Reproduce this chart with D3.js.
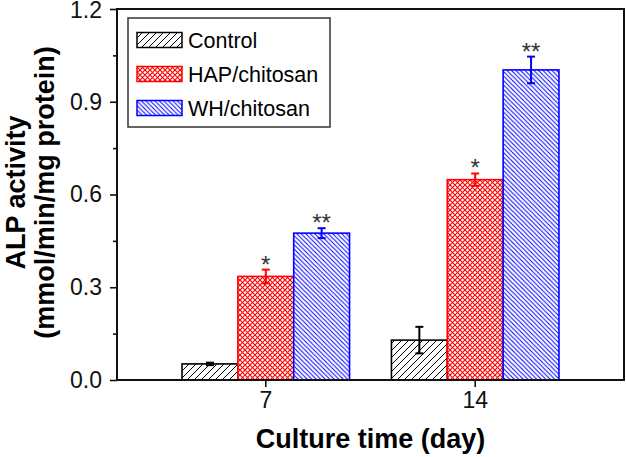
<!DOCTYPE html>
<html>
<head>
<meta charset="utf-8">
<script src="https://cdn.jsdelivr.net/npm/d3@7"></script>
<style>
  html, body { margin: 0; padding: 0; background: #fff; }
  svg { display: block; font-family: "Liberation Sans", Arial, sans-serif; }
</style>
</head>
<body>
<svg id="chart" width="626" height="457"></svg>
<script>
// ---- data ----
const categories = ["7", "14"];
const seriesNames = ["Control", "HAP/chitosan", "WH/chitosan"];
const controlValues = [0.052, 0.129];
const controlErrors = [0.004, 0.043];
const hapValues = [0.335, 0.648];
const hapErrors = [0.022, 0.02];
const whValues = [0.475, 1.003];
const whErrors = [0.016, 0.043];
const hapStars = ["*", "*"];
const whStars = ["**", "**"];
const yTicks = [0, 0.3, 0.6, 0.9, 1.2];
const yMinorTicks = [0.15, 0.45, 0.75, 1.05];
const seriesColors = ["#000000", "#ff0000", "#0000ff"];

const series = [
  { name: seriesNames[0], values: controlValues, errors: controlErrors, stars: null, color: seriesColors[0], pat: "pControl" },
  { name: seriesNames[1], values: hapValues, errors: hapErrors, stars: hapStars, color: seriesColors[1], pat: "pHap" },
  { name: seriesNames[2], values: whValues, errors: whErrors, stars: whStars, color: seriesColors[2], pat: "pWh" }
];

const svg = d3.select("#chart");
const L = 117, R = 624, T = 9, B = 380;

// ---- patterns ----
const defs = svg.append("defs");
function linePattern(id, size, color, sw, dirs) {
  const p = defs.append("pattern").attr("id", id).attr("patternUnits", "userSpaceOnUse")
    .attr("width", size).attr("height", size);
  p.append("rect").attr("width", size).attr("height", size).attr("fill", "#fff");
  dirs.forEach(d => {
    if (d === "/") {
      p.append("path").attr("d", `M0,${size} L${size},0 M${-size/2},${size/2} L${size/2},${-size/2} M${size/2},${size*1.5} L${size*1.5},${size/2}`)
        .attr("stroke", color).attr("stroke-width", sw);
    } else {
      p.append("path").attr("d", `M0,0 L${size},${size} M${-size/2},${size/2} L${size/2},${size*1.5} M${size/2},${-size/2} L${size*1.5},${size/2}`)
        .attr("stroke", color).attr("stroke-width", sw);
    }
  });
}
linePattern("pControl", 7, "#000", 1, ["/"]);
linePattern("pHap", 5, "#ff0000", 1.1, ["/", "\\"]);
linePattern("pWh", 4.5, "#0000ff", 1.0, ["\\"]);

// ---- scales ----
const x = d3.scaleBand().domain(categories).range([L, R]).paddingInner(0.2).paddingOuter(0.3105);
const xs = d3.scaleBand().domain(seriesNames).range([0, x.bandwidth()]);
const y = d3.scaleLinear().domain([0, 1.2]).range([B, T]);

// ---- bars ----
series.forEach(s => {
  const g = svg.append("g");
  categories.forEach((c, i) => {
    const bx = x(c) + xs(s.name);
    const v = s.values[i], e = s.errors[i];
    g.append("rect")
      .attr("x", bx).attr("y", y(v))
      .attr("width", xs.bandwidth()).attr("height", y(0) - y(v))
      .attr("fill", `url(#${s.pat})`).attr("stroke", s.color).attr("stroke-width", 1.6);
    const cx = bx + xs.bandwidth() / 2;
    const eg = g.append("g").attr("stroke", s.color).attr("stroke-width", 2);
    eg.append("line").attr("x1", cx).attr("x2", cx).attr("y1", y(v + e)).attr("y2", y(v - e));
    eg.append("line").attr("x1", cx - 4).attr("x2", cx + 4).attr("y1", y(v + e)).attr("y2", y(v + e));
    eg.append("line").attr("x1", cx - 4).attr("x2", cx + 4).attr("y1", y(v - e)).attr("y2", y(v - e));
    if (s.stars) {
      g.append("text").attr("x", cx).attr("y", y(v + e) + 3)
        .attr("text-anchor", "middle").attr("font-size", 24).attr("fill", "#333")
        .text(s.stars[i]);
    }
  });
});

// ---- frame & axes ----
const axisColor = "#111";
svg.append("rect").attr("x", L).attr("y", T).attr("width", R - L).attr("height", B - T)
  .attr("fill", "none").attr("stroke", axisColor).attr("stroke-width", 2);

const yAxis = svg.append("g").attr("transform", `translate(${L},0)`)
  .call(d3.axisLeft(y).tickValues(yTicks).tickFormat(d3.format(".1f")).tickSize(7).tickPadding(8));
yAxis.select(".domain").remove();
yAxis.selectAll(".tick line").attr("stroke", axisColor).attr("stroke-width", 1.6);
yAxis.selectAll(".tick text").attr("font-size", 23).attr("fill", "#111")
  .attr("font-family", "Liberation Sans, Arial, sans-serif")
  .attr("dy", d => d === 1.2 ? "0.38em" : "0.32em");

const yMinor = svg.append("g").attr("transform", `translate(${L},0)`)
  .call(d3.axisLeft(y).tickValues(yMinorTicks).tickFormat("").tickSize(4));
yMinor.select(".domain").remove();
yMinor.selectAll(".tick line").attr("stroke", axisColor).attr("stroke-width", 1.6);

const xAxis = svg.append("g").attr("transform", `translate(0,${B})`)
  .call(d3.axisBottom(x).tickSize(7).tickPadding(5));
xAxis.select(".domain").remove();
xAxis.selectAll(".tick line").attr("stroke", axisColor).attr("stroke-width", 1.6);
xAxis.selectAll(".tick text").attr("font-size", 23).attr("fill", "#111")
  .attr("font-family", "Liberation Sans, Arial, sans-serif");

// ---- titles ----
svg.append("text").attr("x", (L + R) / 2).attr("y", 448).attr("text-anchor", "middle")
  .attr("font-size", 27).attr("font-weight", "bold").attr("fill", "#000").text("Culture time (day)");
svg.append("text").attr("transform", `translate(25,${(T + B) / 2 - 2}) rotate(-90)`)
  .attr("text-anchor", "middle").attr("font-size", 27).attr("font-weight", "bold").text("ALP activity");
svg.append("text").attr("transform", `translate(54,${(T + B) / 2 - 2}) rotate(-90)`)
  .attr("text-anchor", "middle").attr("font-size", 27).attr("font-weight", "bold").text("(mmol/min/mg protein)");

// ---- legend ----
const lg = svg.append("g");
lg.append("rect").attr("x", 128).attr("y", 18).attr("width", 202).attr("height", 109)
  .attr("fill", "#fff").attr("stroke", "#333").attr("stroke-width", 1.5);
series.forEach((s, i) => {
  const cy = 40 + i * 34;
  lg.append("rect").attr("x", 137).attr("y", cy - 7.5).attr("width", 45).attr("height", 15)
    .attr("fill", `url(#${s.pat})`).attr("stroke", s.color).attr("stroke-width", 1.5);
  lg.append("text").attr("x", 188).attr("y", cy + 8).attr("font-size", 21.5).attr("fill", "#000").text(s.name);
});
</script>
</body>
</html>
